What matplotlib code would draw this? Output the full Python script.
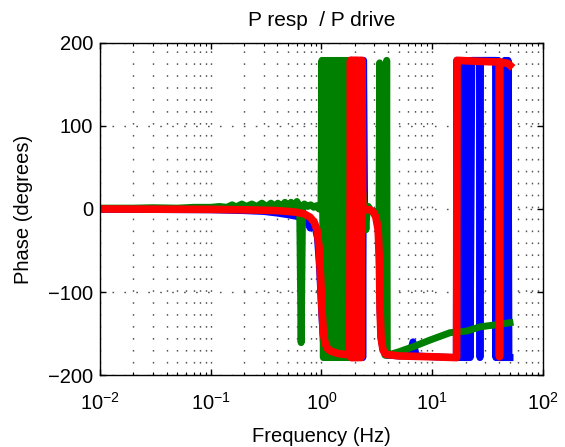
import matplotlib
matplotlib.use('Agg')
import matplotlib.pyplot as plt

plt.rcParams['font.family'] = ['Liberation Sans', 'DejaVu Sans']
plt.rcParams['mathtext.fontset'] = 'custom'
plt.rcParams['mathtext.rm'] = 'Liberation Sans'
plt.rcParams['mathtext.default'] = 'regular'
# keep every wrap of the phase, no path merging
plt.rcParams['path.simplify'] = False

# Phase data (Hz, degrees)
blue_f = [0.01, 0.02, 0.05, 0.1, 0.2, 0.3, 0.4, 0.5, 0.6, 0.7, 0.76, 0.79, 0.82,
          0.87, 0.92, 0.96, 1.0, 1.04, 1.08, 1.1, 1.5, 1.79,
          1.83, 1.86, 1.89, 1.92, 1.96, 2.0, 2.04, 2.08, 2.12, 2.17, 2.22, 2.27,
          2.32, 2.36, 2.40, 2.45,
          2.8, 3.1, 3.25, 3.33, 3.38, 3.45, 3.6, 3.8, 5.0, 6.2, 6.7, 7.2, 10.0, 16.5,
          16.7, 17.2, 17.7, 18.2, 18.8, 19.4, 20.0, 20.6, 21.3, 22.0, 22.8,
          26.7, 27.0, 27.3, 37.3, 37.6, 38.2, 38.8, 39.5, 40.2, 44.5, 45.2, 46.0,
          46.8, 47.6, 48.4, 49.3, 50.4]
blue_p = [-0.5, -0.5, -0.8, -1, -2, -3, -5, -7, -9, -12, -18, -23, -14,
          -20, -35, -70, -120, -160, -170, -172, -175, -176,
          179, -179, 179, -179, 179, -179, 179, -179, 179, -179, 179, -179,
          179, -179, 179, 4,
          -2, -4, -20, -60, -120, -155, -170, -176, -177, -177, -160, -177, -178, -179,
          179, -179, 179, -179, 179, -179, 179, -179, 179, -179, 179,
          179, -179, 179, 179, -179, 179, -179, 179, -179, -179, 179, -179,
          179, -179, 179, -179, -179]

green_f = [0.01, 0.02, 0.03, 0.05, 0.07, 0.1, 0.12, 0.14, 0.156, 0.17, 0.191, 0.21,
           0.235, 0.26, 0.29, 0.32, 0.35, 0.375, 0.404, 0.435, 0.468, 0.5, 0.531,
           0.57, 0.6, 0.635, 0.655, 0.675, 0.7, 0.75, 0.8, 0.85, 0.9, 0.95, 0.99,
           1.01, 1.04, 1.07, 1.105, 1.14, 1.175, 1.21, 1.25, 1.29, 1.33, 1.37,
           1.415, 1.46, 1.505, 1.55, 1.60, 1.65, 1.70, 1.75, 1.80, 1.85,
           2.0, 2.36, 2.42, 2.47, 2.52, 2.57, 2.65, 2.8, 2.95, 3.1, 3.25, 3.31,
           3.35, 3.39, 3.55, 3.74, 3.82, 3.88, 3.93, 4.2, 5.0, 6.7, 9.5, 14.5,
           20.5, 27.0, 35.0, 50.4]
green_p = [1, 1, 1.5, 1, 2, 2, 3, 2, 5, 2.5, 6, 3,
           6, 3, 7, 3, 7, 3, 7, 3, 8, 3, 8,
           3, 9, 3, -161, 3, 6, 3, 5, 2, 4, 0, 2,
           179, -179, 179, -179, 179, -179, 179, -179, 179, -179, 179,
           -179, 179, -179, 179, -179, 179, -179, 179, -179, 179,
           -179, 20, 5, -5, -25, -5, 3, -2, -5, -3, -15, -20,
           176, -30, -120, -176, -176, 179, -176, -175, -172, -166, -158, -149,
           -147, -142, -140, -137]

red_f = [0.01, 0.1, 0.2, 0.3, 0.4, 0.5, 0.6, 0.7, 0.79, 0.86, 0.91, 0.95, 0.98,
         1.01, 1.04, 1.08, 1.13, 1.2, 1.4, 1.6, 1.80,
         1.83, 1.86, 1.89, 1.92, 1.96, 2.0, 2.04, 2.08, 2.12, 2.17, 2.22, 2.27,
         2.32, 2.36, 2.45,
         2.75, 2.95, 3.1, 3.25, 3.33, 3.38, 3.45, 3.6, 3.8, 5.0, 10.0, 16.6,
         16.75, 20.0, 30.0, 40.3, 40.5, 40.7, 45.0, 48.0, 50.4]
red_p = [0, -0.5, -1, -1.5, -2, -3, -4, -6, -10, -16, -25, -45, -80,
         -120, -150, -162, -168, -171, -174, -175, -176,
         179, -179, 179, -179, 179, -179, 179, -179, 179, -179, 179, -179,
         179, 2, -1,
         -1, -4, -10, -25, -60, -120, -155, -170, -175, -177, -178, -179,
         179, 178.5, 177.5, 177, -178, 177, 176, 175.5, 173]

fig = plt.figure(figsize=(5.65, 4.47), dpi=100)
ax = fig.add_axes([0.177, 0.161, 0.784, 0.743])

ax.semilogx(blue_f, blue_p, color=(0, 0, 1), linewidth=5, solid_joinstyle='round')
ax.semilogx(green_f, green_p, color=(0, 0.5, 0), linewidth=5, solid_joinstyle='round')
ax.semilogx(red_f, red_p, color=(1, 0, 0), linewidth=5.5, solid_joinstyle='round')

ax.set_xlim(0.01, 100)
ax.set_ylim(-200, 200)
ax.set_yticks([-200, -100, 0, 100, 200])

ax.grid(True, which='both', axis='x', color='#555555', linewidth=1.0,
        linestyle=(0, (1.2, 7.4)))
ax.grid(True, which='major', axis='y', color='#555555', linewidth=1.0,
        linestyle=(0, (1.2, 7.4)))

ax.tick_params(which='both', direction='in', top=True, right=True, labelsize=14.5)
ax.tick_params(which='major', length=4.5, width=1)
ax.tick_params(which='minor', length=2.5, width=0.8)
ax.tick_params(axis='x', pad=12)
ax.tick_params(axis='y', pad=5)
for s in ax.spines.values():
    s.set_linewidth(1.0)

ax.set_title('P resp  / P drive', fontsize=15, pad=12)
ax.set_xlabel('Frequency (Hz)', fontsize=14.5, labelpad=10)
ax.set_ylabel('Phase (degrees)', fontsize=14.5, labelpad=11)

fig.savefig('out.png', dpi=100)
